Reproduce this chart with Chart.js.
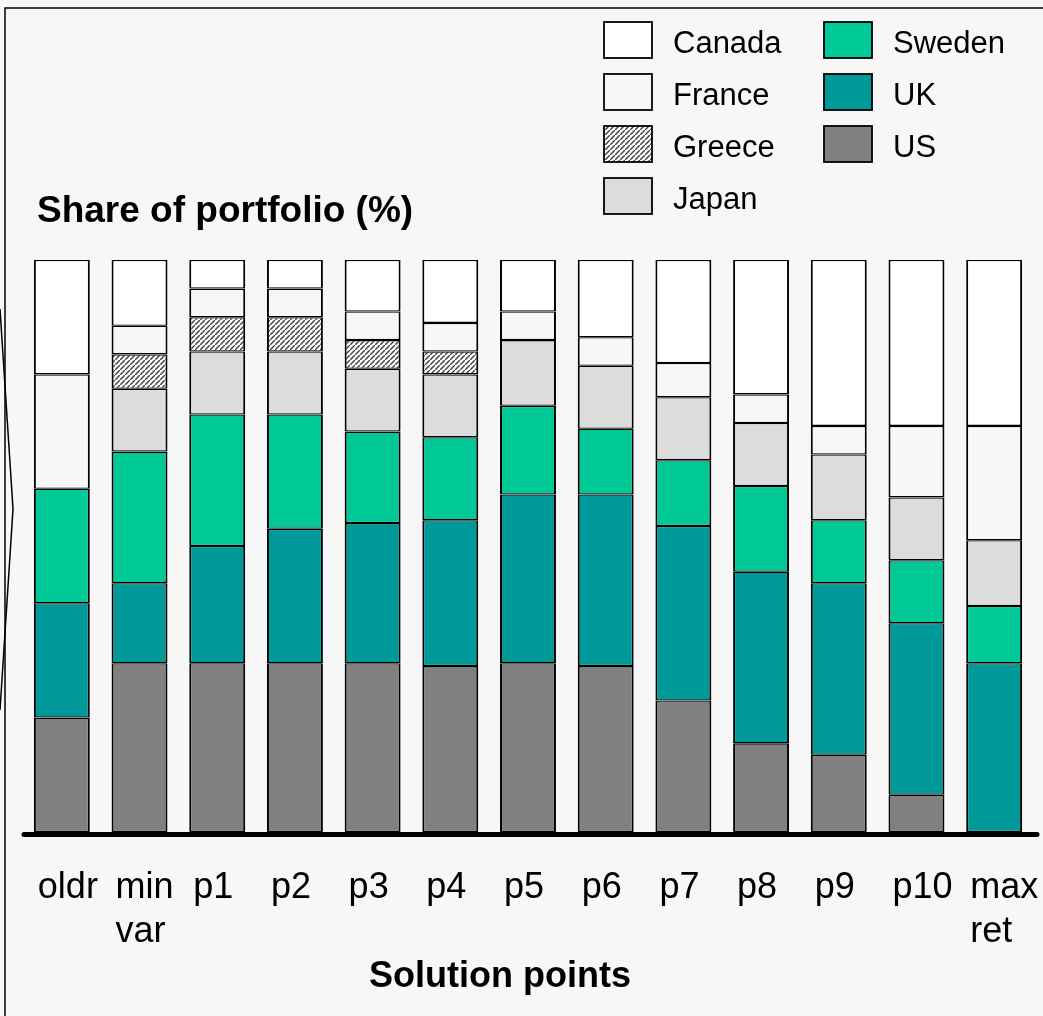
<!DOCTYPE html>
<html>
<head>
<meta charset="utf-8">
<title>Share of portfolio by solution point</title>
<script src="https://cdn.jsdelivr.net/npm/chart.js@4.4.1/dist/chart.umd.min.js"></script>
<style>
  html, body { margin: 0; padding: 0; background: #f7f7f7; }
  #wrap { width: 1043px; height: 1016px; }
  canvas { display: block; }
</style>
</head>
<body>
<div id="wrap"><canvas id="chart" width="1043" height="1016"></canvas></div>
<script>
// Solution points along the efficient frontier
const categories = ['oldr', ['min', 'var'], 'p1', 'p2', 'p3', 'p4', 'p5', 'p6', 'p7', 'p8', 'p9', 'p10', ['max', 'ret']];

// Portfolio shares (%) per country, one value per solution point
const usShare     = [20, 29.5, 29.5, 29.5, 29.5, 29,   29.5, 29,   23,   15.5, 13.5, 6.5, 0];
const ukShare     = [20, 14,   20.5, 23.5, 24.5, 25.5, 29.5, 30,   30.5, 30,   30,   30,  29.5];
const swedenShare = [20, 23,   23,   20,   16,   14.5, 15.5, 11.5, 11.5, 15,   11,   11,  10];
const japanShare  = [0,  11,   11,   11,   11,   11,   11.5, 11,   11,   11,   11.5, 11,  11.5];
const greeceShare = [0,  6,    6,    6,    5,    4,    0,    0,    0,    0,    0,    0,   0];
const franceShare = [20, 5,    5,    5,    5,    5,    5,    5,    6,    5,    5,    12.5, 20];
const canadaShare = [20, 11.5, 5,    5,    9,    11,   9,    13.5, 18,   23.5, 29,   29,  29];

const countryNames = ['US', 'UK', 'Sweden', 'Japan', 'Greece', 'France', 'Canada'];

const FONT = '"Liberation Sans", Arial, Helvetica, sans-serif';
const BG = '#f7f7f7';

// Diagonal hatch used for Greece
function makeHatch() {
  const s = 5;
  const tile = document.createElement('canvas');
  tile.width = s; tile.height = s;
  const g = tile.getContext('2d');
  g.fillStyle = '#ffffff';
  g.fillRect(0, 0, s, s);
  g.strokeStyle = '#474747';
  g.lineWidth = 1.5;
  g.beginPath();
  g.moveTo(-1, s + 1); g.lineTo(s + 1, -1);
  g.moveTo(-1 - s, s + 1 - s); g.lineTo(s + 1 - s, -1 - s);
  g.moveTo(-1 + s, s + 1 + s); g.lineTo(s + 1 + s, -1 + s);
  g.stroke();
  return g.createPattern(tile, 'repeat');
}
const hatch = makeHatch();

const fills = {
  US: '#808080',
  UK: '#009999',
  Sweden: '#00c896',
  Japan: '#dcdcdc',
  Greece: hatch,
  France: '#f7f7f7',
  Canada: '#ffffff'
};

const seriesValues = [usShare, ukShare, swedenShare, japanShare, greeceShare, franceShare, canadaShare];

const datasets = countryNames.map((name, i) => ({
  label: name,
  data: seriesValues[i],
  backgroundColor: fills[name],
  borderColor: '#000000',
  borderWidth: { left: 2, right: 2, top: 1.3, bottom: 1.3 },
  borderSkipped: false,
  barPercentage: 0.72,
  categoryPercentage: 1.0
}));

// Frame, titles, legend and the heavy baseline
const decorations = {
  id: 'decorations',
  beforeDraw(chart) {
    const ctx = chart.ctx;
    ctx.save();
    ctx.fillStyle = BG;
    ctx.fillRect(0, 0, chart.width, chart.height);
    ctx.restore();
  },
  afterDatasetsDraw(chart) {
    const ctx = chart.ctx;
    const area = chart.chartArea;
    const y0 = chart.scales.y.getPixelForValue(0);
    ctx.save();
    ctx.strokeStyle = '#000000';
    ctx.lineWidth = 5;
    ctx.lineCap = 'round';
    ctx.beginPath();
    ctx.moveTo(area.left + 1, y0 + 2.5);
    ctx.lineTo(area.right + 4, y0 + 2.5);
    ctx.stroke();
    ctx.restore();
  },
  afterDraw(chart) {
    const ctx = chart.ctx;
    ctx.save();

    // outer frame
    ctx.strokeStyle = '#000000';
    ctx.lineWidth = 1.5;
    ctx.beginPath();
    ctx.moveTo(5, chart.height);
    ctx.lineTo(5, 8);
    ctx.lineTo(chart.width, 8);
    ctx.stroke();

    // side bracket
    ctx.lineWidth = 1.5;
    ctx.beginPath();
    ctx.moveTo(0, 309);
    ctx.lineTo(13, 509);
    ctx.lineTo(0, 710);
    ctx.stroke();

    // titles
    ctx.fillStyle = '#000000';
    ctx.textBaseline = 'alphabetic';
    ctx.font = 'bold 37px ' + FONT;
    ctx.textAlign = 'left';
    ctx.fillText('Share of portfolio (%)', 37, 222);
    ctx.font = 'bold 36px ' + FONT;
    ctx.textAlign = 'center';
    ctx.fillText('Solution points', 500, 987);

    // legend, two columns, read top-down
    const items = chart.data.datasets.slice().reverse();
    const colX = [604, 824];
    const rowsPerCol = 4;
    ctx.font = '31px ' + FONT;
    ctx.textAlign = 'left';
    items.forEach((ds, i) => {
      const col = Math.floor(i / rowsPerCol);
      const row = i % rowsPerCol;
      const x = colX[col];
      const y = 22 + row * 52;
      ctx.fillStyle = ds.backgroundColor;
      ctx.fillRect(x, y, 48, 36);
      ctx.strokeStyle = '#000000';
      ctx.lineWidth = 1.8;
      ctx.strokeRect(x, y, 48, 36);
      ctx.fillStyle = '#000000';
      ctx.fillText(ds.label, x + 69, y + 31);
    });
    ctx.restore();
  }
};

new Chart(document.getElementById('chart'), {
  type: 'bar',
  data: { labels: categories, datasets },
  options: {
    responsive: false,
    animation: false,
    devicePixelRatio: 1,
    layout: { padding: { top: 260, left: 23, right: 10, bottom: 64 } },
    plugins: {
      legend: { display: false },
      title: { display: false },
      tooltip: { enabled: false }
    },
    scales: {
      x: {
        stacked: true,
        offset: true,
        grid: { display: false },
        border: { display: false },
        ticks: {
          color: '#000000',
          font: { family: FONT, size: 36, lineHeight: 1.22 },
          align: 'start',
          labelOffset: -24,
          padding: 26,
          maxRotation: 0,
          autoSkip: false
        },
        afterFit(scale) {
          scale.height = 120;
          scale.paddingLeft = 0;
          scale.paddingRight = 0;
        }
      },
      y: {
        stacked: true,
        display: false,
        min: 0,
        max: 100
      }
    }
  },
  plugins: [decorations]
});
</script>
</body>
</html>
